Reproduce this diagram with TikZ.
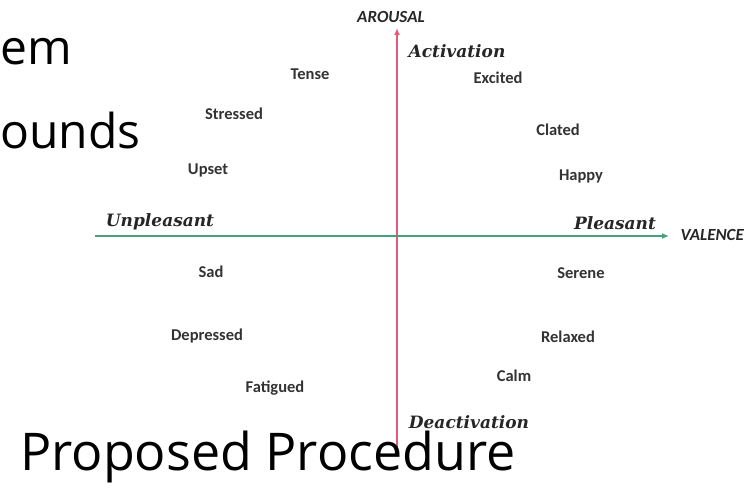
\documentclass[tikz,border=0pt]{standalone}
\usepackage{fontspec}
\setmainfont{Carlito}
\newfontfamily\handfont{Open Sans}
\newfontfamily\serifbi{DejaVu Serif}
\usetikzlibrary{arrows.meta}
\definecolor{axred}{RGB}{228,90,120}
\definecolor{axgreen}{RGB}{70,160,120}
\tikzset{
  word/.style={font=\bfseries\fontsize{16.5}{18}\selectfont, text=black!80},
  pole/.style={font=\serifbi\bfseries\itshape\fontsize{17}{19}\selectfont, text=black!85},
  axlabel/.style={font=\bfseries\itshape\fontsize{17}{19}\selectfont, text=black!85},
  hand/.style={font=\handfont\fontsize{48}{52}\selectfont, text=black},
}
\begin{document}
\begin{tikzpicture}[x=1pt,y=-1pt]
\useasboundingbox (0,0) rectangle (751,492);
\coordinate (vb) at (397,455);
\coordinate (vt) at (397,28);
\coordinate (hl) at (95,236);
\coordinate (hr) at (669,236);
\draw[axred, line width=1.6pt, -{Latex[length=7pt,width=6pt]}] (vb) -- (vt);
\draw[axgreen, line width=1.4pt, -{Latex[length=7pt,width=6pt]}] (hl) -- (hr);
\node[axlabel] (arousal) at (391,17) {AROUSAL};
\node[axlabel, anchor=west] (valence) at (677,235) {VALENCE};
\node[pole] (act) at (457,51) {Activation};
\node[pole] (deact) at (469,422) {Deactivation};
\node[pole] (unpl) at (160,222) {Unpleasant};
\node[pole] (pl) at (615,223) {Pleasant};
\node[word] (excited) at (498,78) {Excited};
\node[word] (tense) at (310,74) {Tense};
\node[word] (stressed) at (234,114) {Stressed};
\node[word] (upset) at (208,170) {Upset};
\node[word] (clated) at (558,130) {Clated};
\node[word] (happy) at (581,176) {Happy};
\node[word] (sad) at (211,272) {Sad};
\node[word] (serene) at (581,273) {Serene};
\node[word] (depressed) at (207,336) {Depressed};
\node[word] (relaxed) at (568,337) {Relaxed};
\node[word] (calm) at (514,376) {Calm};
\node[word] (fatigued) at (275,388) {Fatigued};
\node[hand, anchor=west, inner sep=0pt] (em) at (0,52) {em};
\node[hand, anchor=west, inner sep=0pt] (ounds) at (0,130) {ounds};
\node[hand, anchor=west, inner sep=0pt, font=\handfont\fontsize{52}{56}\selectfont] (proc) at (20,457) {Proposed Procedure};
\end{tikzpicture}
\end{document}
